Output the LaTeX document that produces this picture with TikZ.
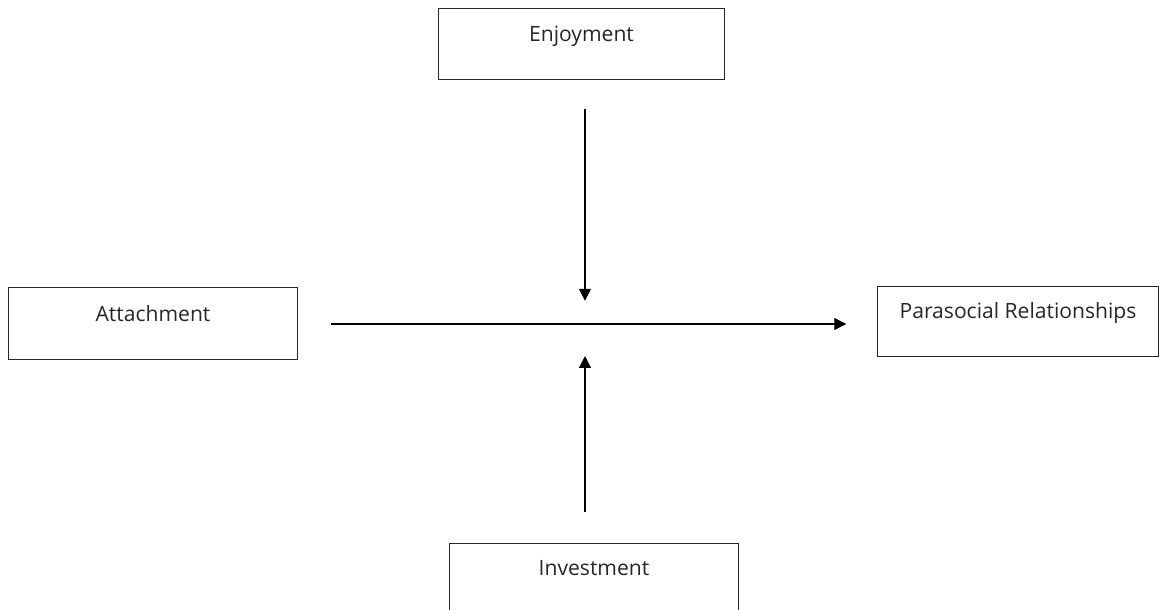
\documentclass[tikz,border=0pt]{standalone}
\usepackage{fontspec}
\setmainfont{Open Sans}
\usetikzlibrary{arrows.meta,positioning,calc}

\begin{document}
\begin{tikzpicture}[x=0.025cm, y=-0.025cm,
  varbox/.style={draw=black!85, line width=0.7pt, rectangle, inner xsep=0pt, inner ysep=0pt, text height=0.82cm, text depth=0.93cm, font=\fontsize{15}{18}\selectfont, text=black!85},
  link/.style={-{Triangle[length=8.5pt,width=8.5pt]}, line width=0.9pt}]
  \useasboundingbox (0,0) rectangle (1159,610);

  % moderators
  \node[varbox, minimum width=7.17cm] (enjoy) at (581.5,44) {Enjoyment};
  \node[varbox, minimum width=7.2cm] (invest) at (594,578) {Investment};

  % predictor and outcome
  \node[varbox, minimum width=7.2cm, text height=0.84cm, text depth=0.94cm] (attach) at (153,323.5) {Attachment};
  \node[varbox, minimum width=7.0cm, text height=0.78cm, text depth=0.95cm] (para) at (1018,321.5) {Parasocial Relationships};

  %--- paths ---
  \coordinate (hub) at (585,324);
  \draw[link, shorten <=0.83cm, shorten >=0.78cm] (attach.east |- hub) -- (para.west |- hub);
  \draw[link, shorten <=0.73cm, shorten >=0.58cm] (enjoy.south -| hub) -- (hub);
  \draw[link, shorten <=0.75cm, shorten >=0.8cm] (invest.north -| hub) -- (hub);
\end{tikzpicture}
\end{document}
